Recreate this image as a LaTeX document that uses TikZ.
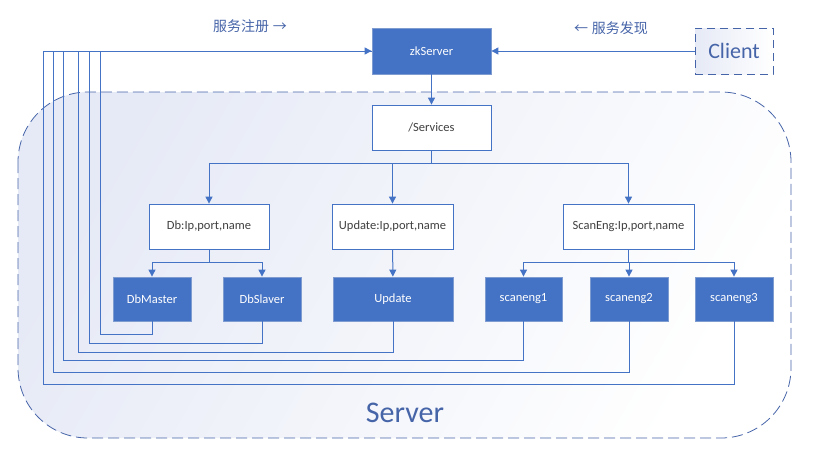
\documentclass[tikz,border=0pt]{standalone}
\usepackage{fontspec}
\setmainfont{Carlito}
\newfontfamily\cjkfont{Noto Sans CJK SC}
\usetikzlibrary{arrows.meta}
\definecolor{zkblue}{HTML}{4472C4}
\definecolor{zkedge}{HTML}{7F9CD0}
\definecolor{zktext}{HTML}{4664A8}
\definecolor{srvfill}{HTML}{E6EAF6}

\begin{document}
\begin{tikzpicture}[x=1pt,y=-1pt,
  every node/.style={font=\fontsize{12.5}{14}\selectfont},
  fullbox/.style={fill=zkblue,draw=zkedge,line width=0.8pt,text=white,
    minimum width=78pt,minimum height=44pt,inner sep=0pt},
  infobox/.style={fill=white,draw=zkblue,line width=0.8pt,text=black!75,
    minimum height=45pt,inner sep=0pt},
  link/.style={draw=zkblue,line width=1pt},
  >={Triangle[length=7pt,width=7pt]}]
\useasboundingbox (0,0) rectangle (814,458);

% server area
\draw[zktext,line width=0.8pt,dash pattern=on 11pt off 5pt,rounded corners=70pt,
  left color=srvfill,right color=white,shading angle=60]
  (18,92) rectangle (791,438);
\node[text=zktext,font=\fontsize{30}{32}\selectfont] (server) at (405,413) {Server};

% top row
\node[fullbox,minimum width=119pt,minimum height=46pt] (zk) at (431.5,51) {zkServer};
\node[draw=zktext,line width=0.8pt,dash pattern=on 8pt off 5pt,left color=srvfill,right color=white,
  minimum width=78pt,minimum height=46pt,inner sep=0pt,text=zktext,
  font=\fontsize{22}{24}\selectfont] (client) at (734,51) {Client};
\node[text=zktext,font=\cjkfont\fontsize{14}{16}\selectfont] (reg) at (250,26) {服务注册\hspace{4pt}→};
\node[text=zktext,font=\cjkfont\fontsize{14}{16}\selectfont] (disc) at (611,28) {←\hspace{4pt}服务发现};

% tree
\node[infobox,minimum width=119pt] (svc) at (431.5,127.5) {/Services};
\node[infobox,minimum width=120pt] (dbinfo) at (209,226.5) {Db:Ip,port,name};
\node[infobox,minimum width=121pt] (updinfo) at (392.5,226.5) {Update:Ip,port,name};
\node[infobox,minimum width=131pt] (scaninfo) at (628.5,226.5) {ScanEng:Ip,port,name};

\node[fullbox] (dbm) at (152,299) {DbMaster};
\node[fullbox] (dbs) at (262,299) {DbSlaver};
\node[fullbox,minimum width=120pt] (upd) at (393,299) {Update};
\node[fullbox,minimum width=77pt] (se1) at (523.5,299) {scaneng1};
\node[fullbox] (se2) at (629,299) {scaneng2};
\node[fullbox] (se3) at (734,299) {scaneng3};

\draw[link,->] (client) -- (zk);
\draw[link,->] (zk) -- (svc);
\foreach \n in {dbinfo,updinfo,scaninfo}
  \draw[link,->] (svc.south) -- ++(0,13) -| (\n.north);
\foreach \n in {dbm,dbs}
  \draw[link,->] (dbinfo.south) -- ++(0,13) -| (\n.north);
\draw[link,->] (updinfo) -- (upd);
\foreach \n in {se1,se2,se3}
  \draw[link,->] (scaninfo.south) -- ++(0,13) -| (\n.north);

% registration lines back to zkServer
\foreach \n/\x/\y in {dbm/100/334,dbs/89/343,upd/78/352,se1/63/360,se2/53/372,se3/43/384}
  \draw[link] (\n.south) |- (\x,\y) |- (zk.west);
\draw[link,->] (100,51) -- (zk.west);
\end{tikzpicture}
\end{document}
